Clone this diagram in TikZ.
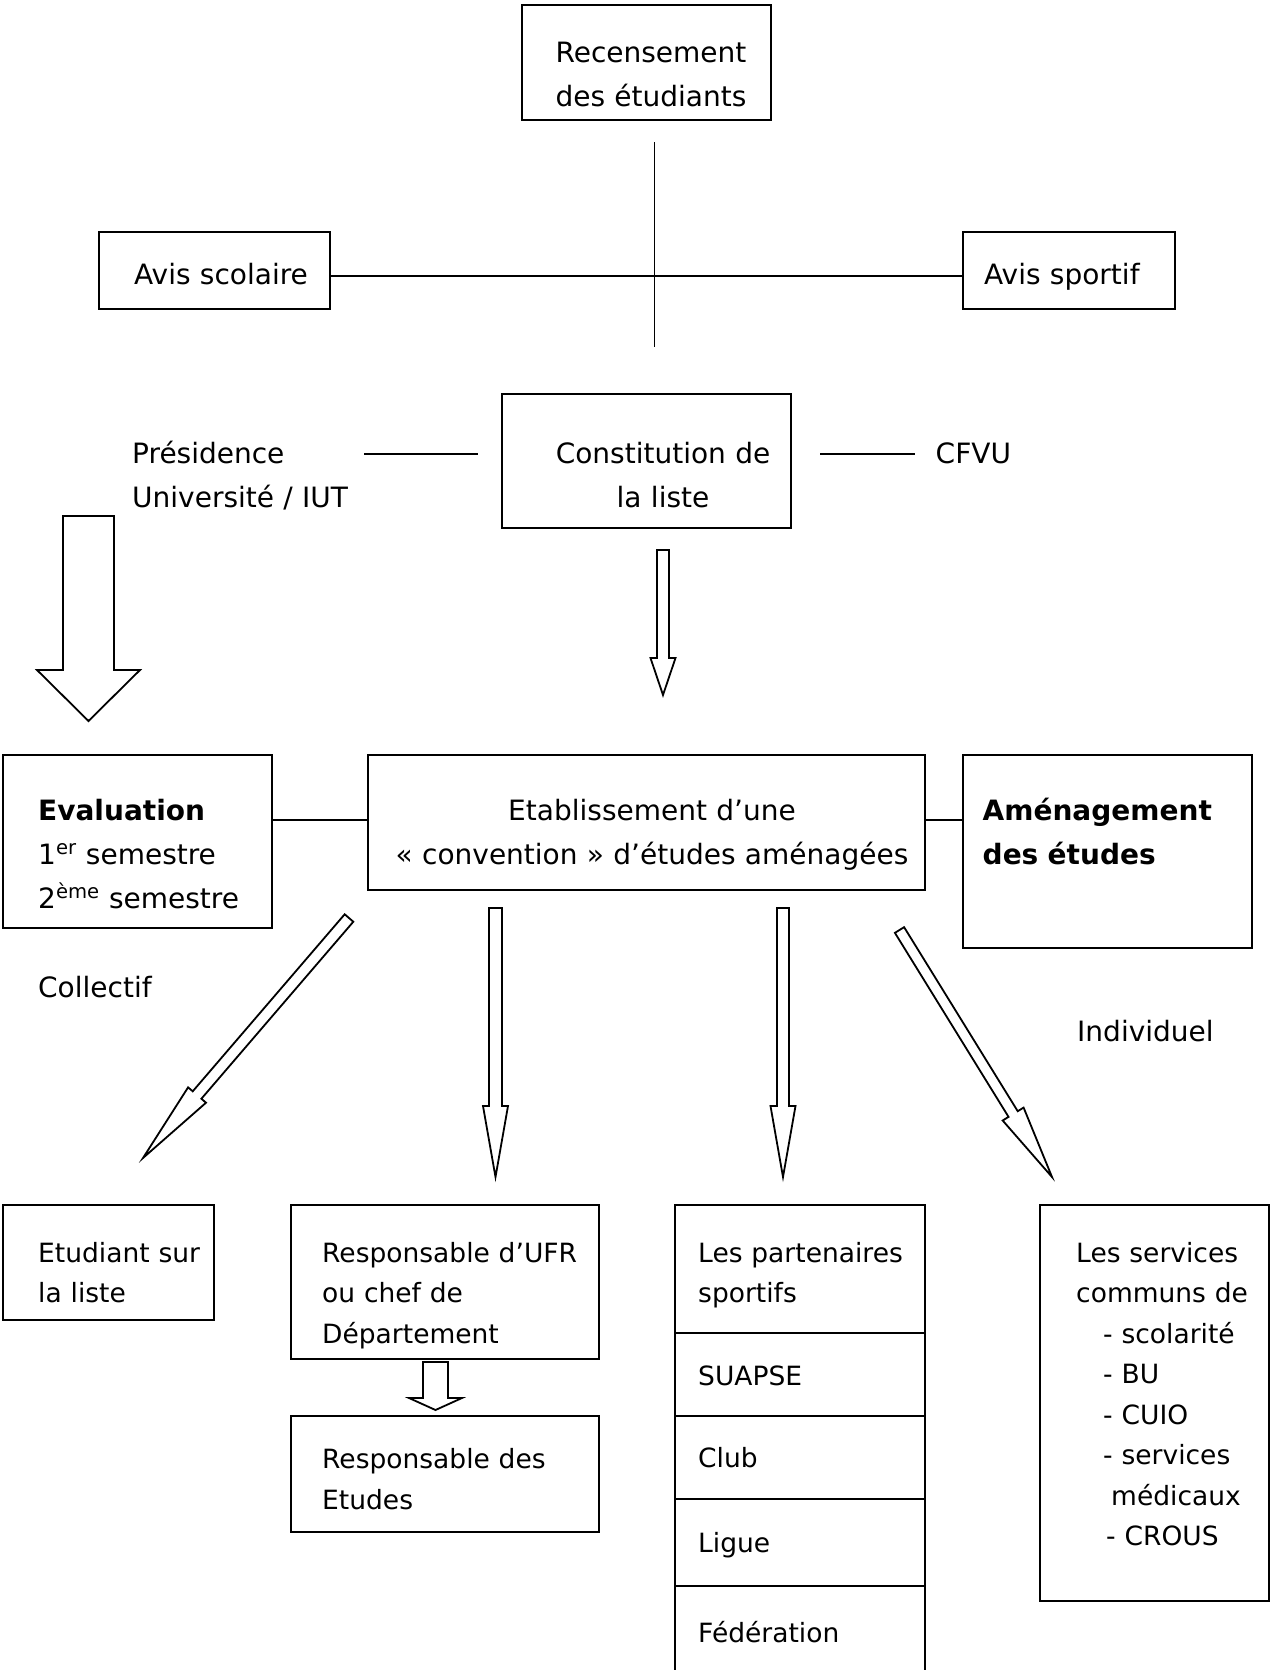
\documentclass[tikz,border=0pt]{standalone}
\usepackage{fontspec}
\setmainfont{DejaVu Sans}
\usetikzlibrary{calc}

% hollow arrow: start, tip, half shaft, half head, head length
\newcommand{\blockarrow}[5]{%
  \coordinate (hb) at ($(#2)!#5!(#1)$);
  \draw[blockarr] ($(#1)!#3!90:(#2)$) -- ($(hb)!#3!90:(#2)$) -- ($(hb)!#4!90:(#2)$)
    -- (#2) -- ($(hb)!#4!-90:(#2)$) -- ($(hb)!#3!-90:(#2)$) -- ($(#1)!#3!-90:(#2)$) -- cycle;
}

\begin{document}
\begin{tikzpicture}[x=1pt, y=-1pt,
    box/.style={draw, line width=1.9pt, inner sep=0pt, anchor=north west},
    link/.style={line width=1.6pt},
    blockarr/.style={draw, fill=white, line width=1.8pt, line join=miter},
    bigtxt/.style={inner sep=0pt, anchor=base west, align=left, text width=420pt,
      font=\fontsize{28}{44}\selectfont},
    smalltxt/.style={inner sep=0pt, anchor=base west, align=left, text width=320pt,
      font=\fontsize{26.5}{40.5}\selectfont},
    centred/.style={anchor=base, align=center, text width=640pt}
  ]
  \useasboundingbox (0,0) rectangle (1270,1670);

  % Boxes
  \node[box, minimum width=249pt, minimum height=115pt] (recens) at (521,4) {};
  \node[box, minimum width=231pt, minimum height=77pt] (scol) at (98,231) {};
  \node[box, minimum width=212pt, minimum height=77pt] (sport) at (962,231) {};
  \node[box, minimum width=289pt, minimum height=134pt] (const) at (501,393) {};
  \node[box, minimum width=269pt, minimum height=173pt] (eval) at (2,754) {};
  \node[box, minimum width=557pt, minimum height=135pt] (etab) at (367,754) {};
  \node[box, minimum width=289pt, minimum height=193pt] (amen) at (962,754) {};
  \node[box, minimum width=211pt, minimum height=115pt] (etud) at (2,1204) {};
  \node[box, minimum width=308pt, minimum height=154pt] (ufr) at (290,1204) {};
  \node[box, minimum width=308pt, minimum height=116pt] (etudes) at (290,1415) {};
  \node[box, minimum width=229pt, minimum height=396pt] (serv) at (1039,1204) {};
  \foreach \n/\a/\h in {p1/1204/128, p2/1332/83, p3/1415/83, p4/1498/87, p5/1585/110} {
    \node[box, minimum width=250pt, minimum height=\h pt] (\n) at (674,\a) {};
  }

  % Texts
  \node[bigtxt, centred] (trecens) at (651,62.5) {Recensement\\des étudiants};
  \node[bigtxt] (tscol) at (134,284) {Avis scolaire};
  \node[bigtxt] (tsport) at (984,284) {Avis sportif};
  \node[bigtxt] (pres) at (132,463) {Présidence\\Université / IUT};
  \node[bigtxt, centred] (tconst) at (663,463) {Constitution de\\la liste};
  \node[bigtxt] (cfvu) at (935.5,463) {CFVU};
  \node[bigtxt] (teval) at (38,820)
    {\textbf{Evaluation}\\1\textsuperscript{er} semestre\\2\textsuperscript{ème} semestre};
  \node[bigtxt, centred] (tetab) at (652,820)
    {Etablissement d’une\\« convention » d’études aménagées};
  \node[bigtxt] (tamen) at (982.5,820) {\textbf{Aménagement}\\\textbf{des études}};
  \node[bigtxt] (coll) at (38,997) {Collectif};
  \node[bigtxt] (indiv) at (1077,1041) {Individuel};

  \node[smalltxt] (tetud) at (38,1262) {Etudiant sur\\la liste};
  \node[smalltxt] (tufr) at (322,1262) {Responsable d’UFR\\ou chef de\\Département};
  \node[smalltxt] (tetudes) at (322,1468.5) {Responsable des\\Etudes};
  \node[smalltxt] (tp1) at (698,1262) {Les partenaires\\sportifs};
  \node[smalltxt] (tp2) at (698,1385) {SUAPSE};
  \node[smalltxt] (tp3) at (698,1467) {Club};
  \node[smalltxt] (tp4) at (698,1552) {Ligue};
  \node[smalltxt] (tp5) at (698,1642) {Fédération};
  \node[smalltxt] (tserv) at (1076,1262) {Les services\\communs de\\
    \hspace*{27pt}- scolarité\\\hspace*{27pt}- BU\\\hspace*{27pt}- CUIO\\
    \hspace*{27pt}- services\\\hspace*{35pt}médicaux\\\hspace*{30pt}- CROUS};

  % Define coordinates
  \coordinate (vtop) at (654.5,142);
  \coordinate (vbot) at (654.5,347);
  \coordinate (cross) at (654.5,276);
  \coordinate (pl1) at (364,454);
  \coordinate (pl2) at (478,454);
  \coordinate (cl1) at (820,454);
  \coordinate (cl2) at (915,454);
  \coordinate (ew) at ([yshift=2.5pt]etab.west);
  \coordinate (ee) at ([yshift=2.5pt]etab.east);

  % Lines
  \draw[link] (vtop) -- (vbot);
  \draw[link] (scol.east |- cross) -- (sport.west |- cross);
  \draw[link] (pl1) -- (pl2);
  \draw[link] (cl1) -- (cl2);
  \draw[link] (eval.east |- ew) -- (ew);
  \draw[link] (ee) -- (amen.west |- ee);

  % Hollow arrows
  \coordinate (aL1) at (88.5,516);   \coordinate (aL2) at (88.5,721);
  \coordinate (aC1) at (663,550);    \coordinate (aC2) at (663,695);
  \coordinate (d11) at (349,918);    \coordinate (d12) at (143,1158);
  \coordinate (d21) at (495.5,908);  \coordinate (d22) at (495.5,1177);
  \coordinate (d31) at (783,908);    \coordinate (d32) at (783,1177);
  \coordinate (d41) at (899.5,930);  \coordinate (d42) at (1052,1177);
  \coordinate (aU1) at (435.5,1362); \coordinate (aU2) at (435.5,1410);

  \blockarrow{aL1}{aL2}{25.5pt}{51.5pt}{51pt}
  \blockarrow{aC1}{aC2}{6pt}{12.5pt}{37pt}
  \blockarrow{d11}{d12}{5.7pt}{11.8pt}{83pt}
  \blockarrow{d21}{d22}{6.5pt}{12.5pt}{71pt}
  \blockarrow{d31}{d32}{6pt}{12.5pt}{71pt}
  \blockarrow{d41}{d42}{5.4pt}{12.3pt}{74pt}
  \blockarrow{aU1}{aU2}{12.5pt}{26.5pt}{12pt}

\end{tikzpicture}
\end{document}
